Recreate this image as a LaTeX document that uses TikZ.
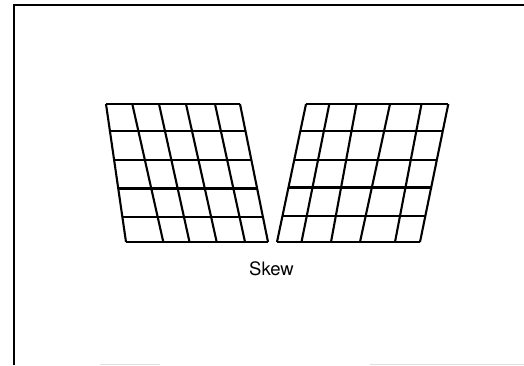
\documentclass[tikz,border=0pt]{standalone}
\usepackage{fontspec}
\setmainfont{TeX Gyre Heros}
\usetikzlibrary{calc}

\begin{document}
\begin{tikzpicture}[x=1pt,y=-1pt,line width=2.1pt]
    \useasboundingbox (0,0) rectangle (524,365);

    % frame
    \draw[line width=2pt] (14,365) -- (14,5) -- (524,5);
    \draw[gray!25,line width=1pt] (100,364) -- (160,364);
    \draw[gray!25,line width=1pt] (370,364) -- (524,364);

    % left grid
    \coordinate (LT) at (106,104);
    \coordinate (LB) at (126,242);
    \coordinate (RT) at (240,104);
    \coordinate (RB) at (268,242);
    \foreach \t/\b in {106/126,132.3/163.3,159/189.5,186/216.7,215/245,240/268} {
        \draw (\t,104) -- (\b,242);
    }
    \foreach \f in {0,0.198,0.408,0.612,0.817,1} {
        \draw ($(LT)!\f!(LB)$) -- ($(RT)!\f!(RB)$);
    }

    % right grid
    \coordinate (LT2) at (306,104);
    \coordinate (LB2) at (277,242);
    \coordinate (RT2) at (448.3,104);
    \coordinate (RB2) at (420,242);
    \foreach \t/\b in {306/277,329.3/301.5,356.5/331,390/360,421.5/395,448.3/420} {
        \draw (\t,104) -- (\b,242);
    }
    \foreach \f in {0,0.198,0.408,0.605,0.81,1} {
        \draw ($(LT2)!\f!(LB2)$) -- ($(RT2)!\f!(RB2)$);
    }

    \node[anchor=base,inner sep=0pt,font=\fontsize{18.5}{20}\selectfont] (skewlabel) at (271.5,275) {Skew};
\end{tikzpicture}
\end{document}
